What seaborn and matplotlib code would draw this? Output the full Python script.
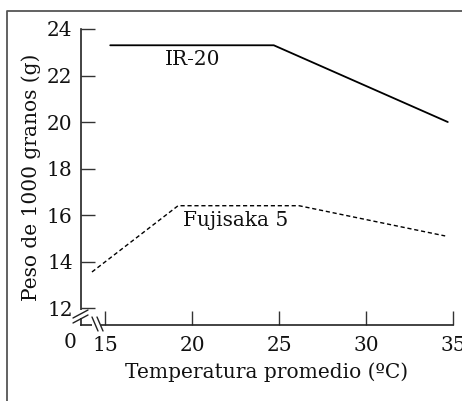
import matplotlib
matplotlib.use("Agg")
import matplotlib.pyplot as plt
import seaborn as sns
import pandas as pd
from matplotlib.lines import Line2D
from matplotlib.patches import Rectangle

# Data
ir20_temp = [15.3, 24.7, 34.7]
ir20_peso = [23.3, 23.3, 20.0]
fuji_temp = [14.25, 19.2, 26.15, 34.55]
fuji_peso = [13.55, 16.4, 16.4, 15.1]
x_ticks = [15, 20, 25, 30, 35]
y_ticks = [12, 14, 16, 18, 20, 22, 24]

df_ir = pd.DataFrame({"Temperatura": ir20_temp, "Peso": ir20_peso})
df_fu = pd.DataFrame({"Temperatura": fuji_temp, "Peso": fuji_peso})

sns.set_theme(style="white")
plt.rcParams["font.family"] = ["DejaVu Serif"]

W, H = 462, 401
FS = 14.5
fig = plt.figure(figsize=(W / 100, H / 100), dpi=100)
ax = fig.add_axes([81 / W, 1 - 325 / H, (453 - 81) / W, (325 - 29) / H])

sns.lineplot(data=df_ir, x="Temperatura", y="Peso", ax=ax, color="black",
             linewidth=1.3, sort=False)
sns.lineplot(data=df_fu, x="Temperatura", y="Peso", ax=ax, color="black",
             linewidth=1.0, linestyle=(0, (3, 2)), sort=False)

ax.set_xlim(13.62, 35)
ax.set_ylim(11.27, 24)
ax.set_xticks(x_ticks)
ax.set_yticks(y_ticks)
ax.tick_params(axis="both", direction="in", length=10, width=1.0, color="#333333",
               labelsize=FS, pad=6, labelcolor="#111111", bottom=True, left=True)
ax.tick_params(axis="x", pad=8)
for s in ["top", "right"]:
    ax.spines[s].set_visible(False)
for s in ["left", "bottom"]:
    ax.spines[s].set_color("#222222")
    ax.spines[s].set_linewidth(1.2)

ax.set_xlabel("Temperatura promedio (ºC)", fontsize=FS, color="#111111", labelpad=5)
ax.set_ylabel("Peso de 1000 granos (g)", fontsize=FS, color="#111111", labelpad=4)

ax.text(20.06, 22.67, "IR-20", ha="center", va="center", fontsize=FS, color="#111111")
ax.text(22.5, 15.78, "Fujisaka 5", ha="center", va="center", fontsize=FS, color="#111111")

# "0" label at left of break
fig.text(70 / W, 1 - 342 / H, "0", ha="center", va="center", fontsize=FS, color="#111111")

def px(x, y):
    return x / W, 1 - y / H

# gaps in axes
gy0, gy1 = px(0, 310)[1], px(0, 318)[1]
fig.patches.append(Rectangle((78 / W, gy1), 6 / W, gy0 - gy1, transform=fig.transFigure,
                             facecolor="white", edgecolor="none", zorder=5))
fig.patches.append(Rectangle((92 / W, 1 - 328 / H), 9 / W, 6 / H, transform=fig.transFigure,
                             facecolor="white", edgecolor="none", zorder=5))

# slashes on y axis
for dy in (0, 5):
    x0, y0 = px(73, 318 + dy)
    x1, y1 = px(88, 310 + dy)
    fig.lines.append(Line2D([x0, x1], [y0, y1], transform=fig.transFigure,
                            color="#222222", linewidth=1.0, zorder=6))
# slashes on x axis
for dx in (0, 5):
    x0, y0 = px(92 + dx, 317)
    x1, y1 = px(98 + dx, 331)
    fig.lines.append(Line2D([x0, x1], [y0, y1], transform=fig.transFigure,
                            color="#222222", linewidth=1.0, zorder=6))

# figure border (left and top)
fig.lines.append(Line2D([7.5 / W, 7.5 / W, 1.0], [0.0, 1 - 10.5 / H, 1 - 10.5 / H],
                        transform=fig.transFigure, color="#555555", linewidth=1.3))

fig.savefig("out.png", dpi=100)
